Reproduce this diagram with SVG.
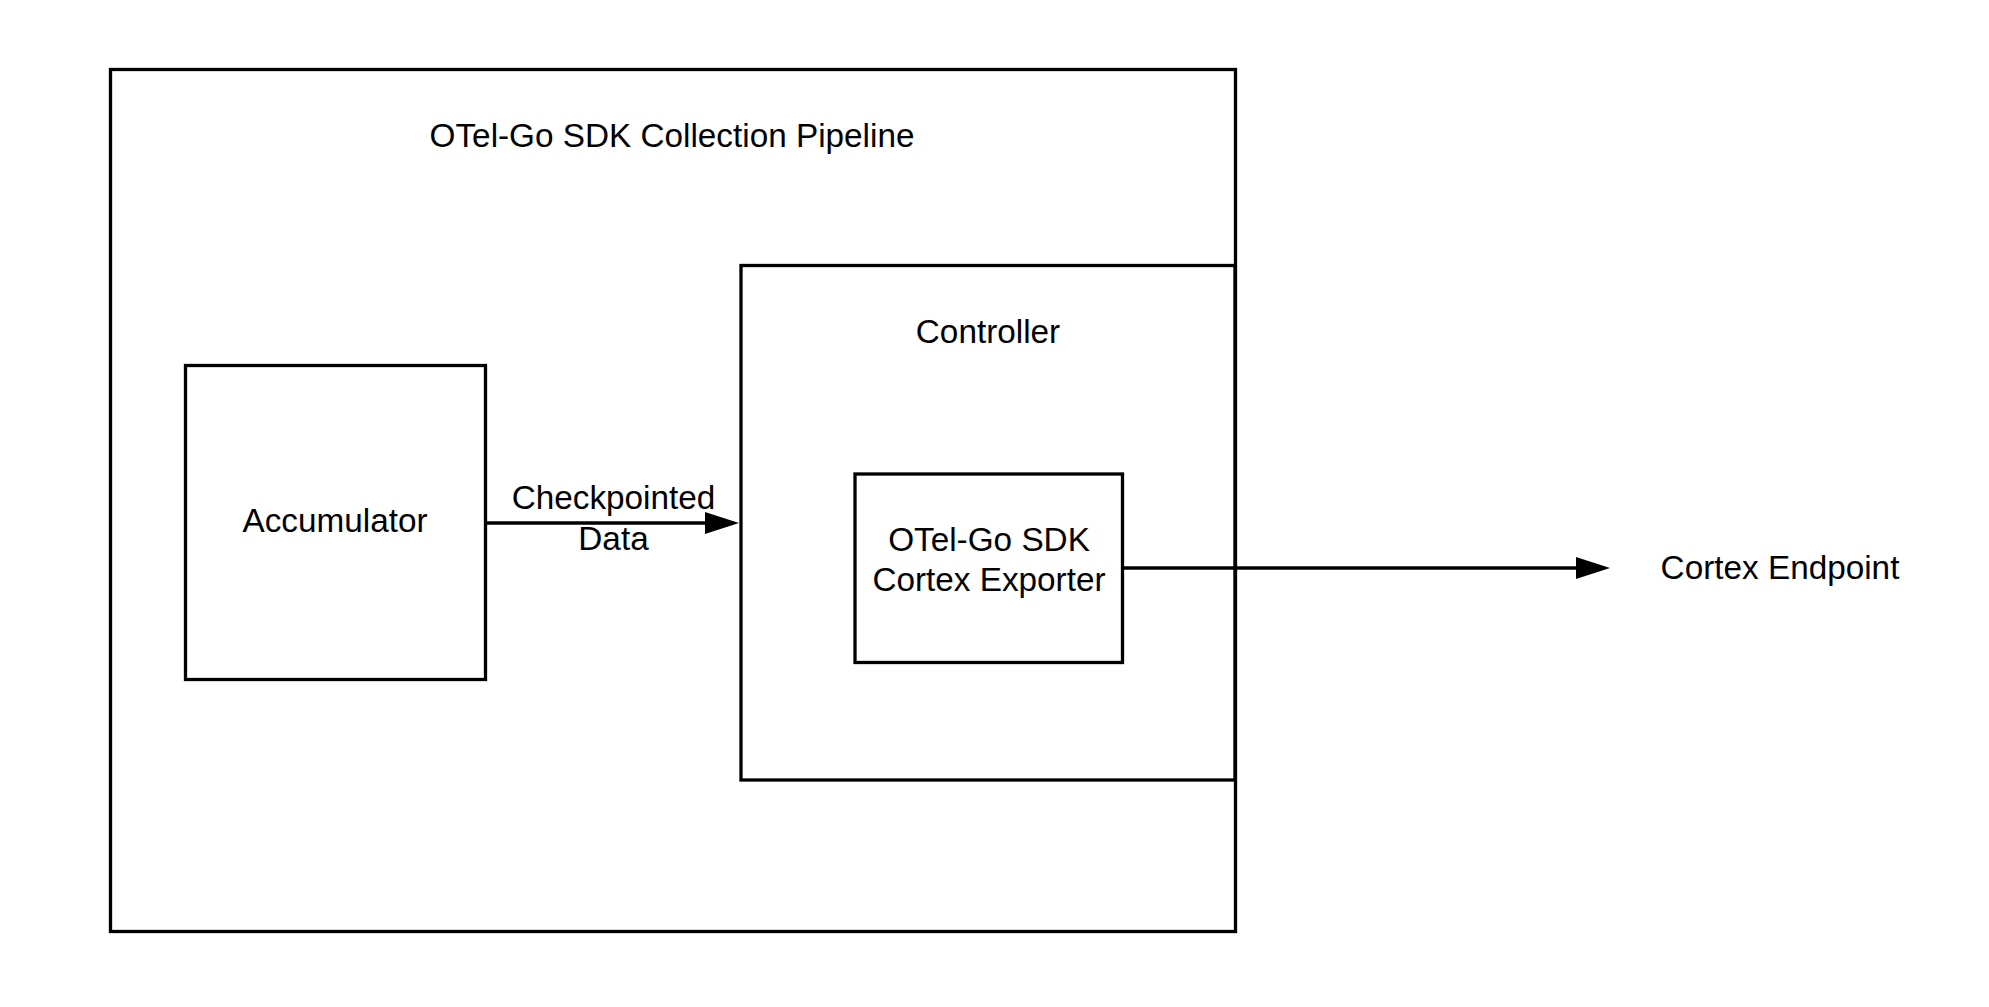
<svg xmlns="http://www.w3.org/2000/svg" width="1989" height="1007" viewBox="0 0 1989 1007">
  <style>
    .box { fill: none; stroke: #000; stroke-width: 3.3; }
    .lbl { font-family: "Liberation Sans", Arial, sans-serif; font-size: 33.3px; fill: #000; text-anchor: middle; }
    .edge { fill: none; stroke: #000; stroke-width: 3.6; }
  </style>
  <defs>
    <marker id="arrow" markerUnits="userSpaceOnUse" markerWidth="34" markerHeight="22" refX="4" refY="11" orient="auto">
      <path d="M0,0 L34,11 L0,22 Z" fill="#000"/>
    </marker>
  </defs>
  <rect width="1989" height="1007" fill="#fff"/>

  <g id="pipeline">
    <rect class="box" x="110.5" y="69.5" width="1125" height="862"/>
    <text class="lbl" x="672" y="147">OTel-Go SDK Collection Pipeline</text>
  </g>

  <g id="controller">
    <rect class="box" x="741" y="265.5" width="494" height="514.5"/>
    <text class="lbl" x="988" y="343">Controller</text>
  </g>

  <g id="accumulator">
    <rect class="box" x="185.5" y="365.5" width="300" height="314"/>
    <text class="lbl" x="335" y="532">Accumulator</text>
  </g>

  <g id="exporter">
    <rect class="box" x="855" y="474" width="267.5" height="188.5"/>
    <text class="lbl" x="989" y="551">OTel-Go SDK</text>
    <text class="lbl" x="989" y="591">Cortex Exporter</text>
  </g>

  <g id="cortex-endpoint">
    <text class="lbl" x="1780" y="579">Cortex Endpoint</text>
  </g>

  <g id="connectors">
    <line class="edge" x1="485.5" y1="523" x2="709" y2="523" marker-end="url(#arrow)"/>
    <text class="lbl" x="613.5" y="509">Checkpointed</text>
    <text class="lbl" x="613.5" y="550">Data</text>
    <line class="edge" x1="1122.5" y1="568" x2="1580" y2="568" marker-end="url(#arrow)"/>
  </g>
</svg>
